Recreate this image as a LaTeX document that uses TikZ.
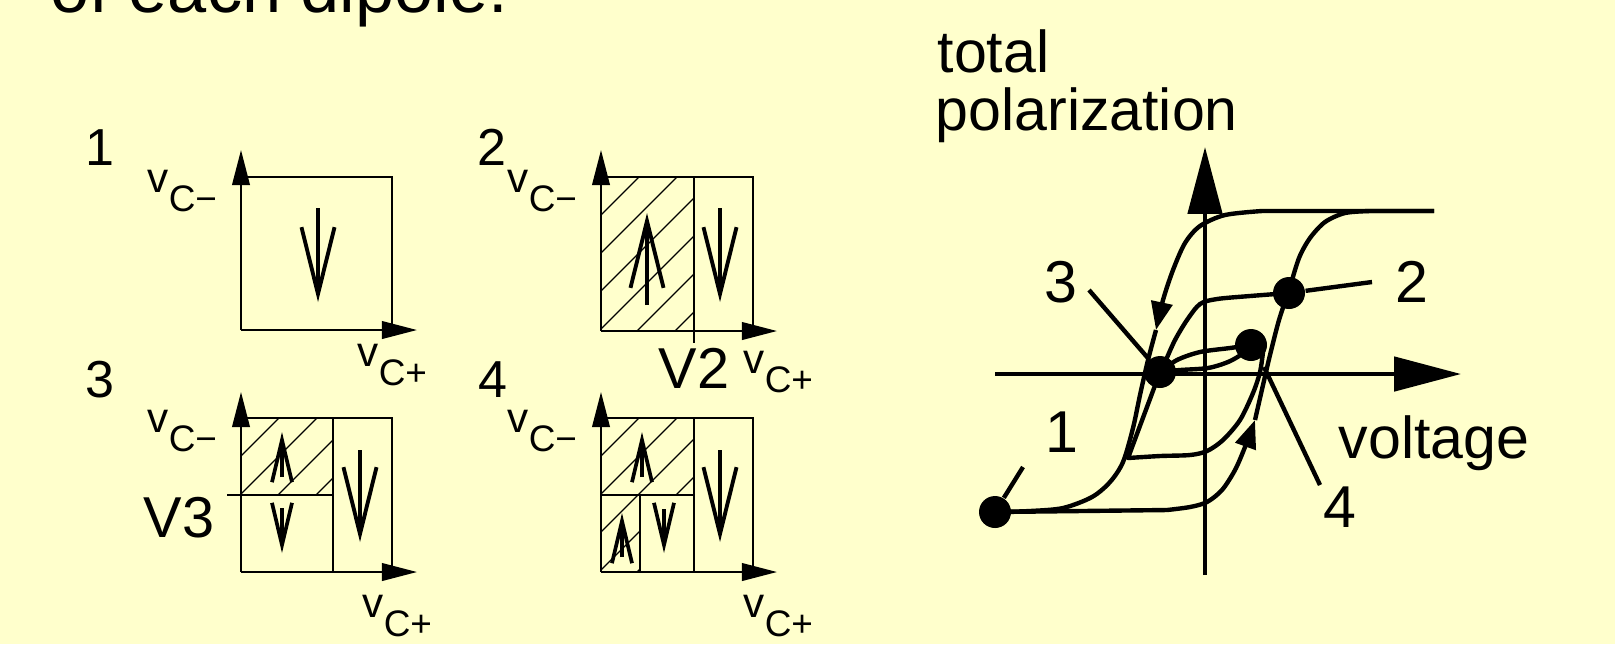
\documentclass[tikz,border=0pt]{standalone}
\usepackage{fontspec}
\setmainfont{Liberation Sans}
\usepackage{tikz}
\usetikzlibrary{arrows.meta}
\definecolor{slidebg}{RGB}{255,255,204}
\newcommand{\vsub}[1]{v\raisebox{-5.6pt}{\fontsize{10.5pt}{10.5pt}\selectfont C#1}}
\tikzset{
  cell/.style   = {line width=0.65pt},
  ax/.style     = {-{Triangle[length=10pt,width=5pt]}, line width=0.65pt},
  dip/.style    = {-{Straight Barb[length=19pt,width=9.4pt]}, line width=1.1pt},
  sdip/.style   = {-{Straight Barb[length=12pt,width=5.7pt]}, line width=1.05pt},
  hatch/.style  = {line width=0.35pt},
  gax/.style    = {-{Triangle[length=19pt,width=9.7pt]}, line width=1.2pt},
  hyst/.style   = {line width=1.25pt, line join=round},
  midarr/.style = {-{Triangle[length=8pt,width=6pt]}},
  pdot/.style   = {circle, fill=black, inner sep=0pt, minimum size=9.1pt},
  vlab/.style   = {anchor=base west, inner sep=0pt, font=\fontsize{12pt}{12pt}\selectfont},
  num/.style    = {anchor=base, inner sep=0pt, font=\fontsize{14.8pt}{14.8pt}\selectfont},
  vbig/.style   = {anchor=base west, inner sep=0pt, font=\fontsize{16.4pt}{16.4pt}\selectfont},
  glab/.style   = {anchor=base, inner sep=0pt, font=\fontsize{16.8pt}{16.8pt}\selectfont},
}

\begin{document}
\begin{tikzpicture}[x=0.01cm, y=-0.01cm]
  \path[fill=slidebg, use as bounding box] (0,0) rectangle (1615,644);
  \node[anchor=base west, inner sep=0pt, font=\fontsize{20pt}{20pt}\selectfont] (title) at (50,12) {of each dipole.};

  % state 1
  \node[num] (n1) at (100,165) {1};
  \draw[cell] (241,177) -| (392,330);
  \draw[ax] (241,330) -- (241,150);
  \draw[ax] (241,330) -- (417,330);
  \draw[dip] (318,208) -- (318,302);
  \node[vlab] (vm1) at (147,192) {\vsub{−}};
  \node[vlab] (vp1) at (357,366) {\vsub{+}};

  % state 2
  \node[num] (n2) at (492,165) {2};
  \begin{scope}
    \clip (601,177) rectangle (694,331);
    \foreach \k in {-5,...,3} \draw[hatch] ({399+38*\k},531) -- ++(400,-400);
  \end{scope}
  \draw[cell] (601,177) -| (753,331);
  \draw[cell] (694,177) -- (694,343);
  \draw[ax] (601,331) -- (601,150);
  \draw[ax] (601,331) -- (777,331);
  \draw[dip] (647,305) -- (647,213);
  \draw[dip] (720,208) -- (720,302);
  \node[vlab] (vm2) at (507,192) {\vsub{−}};
  \node[vlab] (vp2) at (743,373) {\vsub{+}};
  \node[vbig] (v2) at (658,388) {V2};

  % state 3
  \node[num] (n3) at (100,397) {3};
  \begin{scope}
    \clip (241,418) rectangle (333,495);
    \foreach \k in {-5,...,1} \draw[hatch] ({39+38*\k},772) -- ++(400,-400);
  \end{scope}
  \draw[cell] (241,418) -| (392,572);
  \draw[cell] (333,418) -- (333,572);
  \draw[cell] (227,495) -- (333,495);
  \draw[ax] (241,572) -- (241,392);
  \draw[ax] (241,572) -- (417,572);
  \draw[sdip] (282,477) -- (282,432);
  \draw[sdip] (282,508) -- (282,553);
  \draw[dip] (360,450) -- (360,542);
  \node[vlab] (vm3) at (147,432) {\vsub{−}};
  \node[vlab] (vp3) at (362,617) {\vsub{+}};
  \node[vbig] (v3) at (143,537) {V3};

  % state 4
  \node[num] (n4) at (493,397) {4};
  \begin{scope}
    \clip (601,418) rectangle (694,495) (601,495) rectangle (640,572);
    \foreach \k in {-5,...,1} \draw[hatch] ({399+38*\k},772) -- ++(400,-400);
  \end{scope}
  \draw[cell] (601,418) -| (753,572);
  \draw[cell] (694,418) -- (694,572);
  \draw[cell] (601,495) -- (694,495);
  \draw[cell] (640,495) -- (640,572);
  \draw[ax] (601,572) -- (601,392);
  \draw[ax] (601,572) -- (777,572);
  \draw[sdip] (642,477) -- (642,432);
  \draw[sdip] (622,557) -- (622,513);
  \draw[sdip] (664,509) -- (664,553);
  \draw[dip] (720,450) -- (720,542);
  \node[vlab] (vm4) at (507,432) {\vsub{−}};
  \node[vlab] (vp4) at (743,617) {\vsub{+}};

  % hysteresis
  \draw[gax] (1205,575) -- (1205,147);
  \draw[gax] (995,374) -- (1461,374);
  \node[glab, anchor=base west] (ylab) at (937,72) {total};
  \node[glab, anchor=base west] (ylab2) at (935,130) {polarization};
  \node[glab, anchor=base west] (xlab) at (1338,458) {voltage};

  \draw[hyst, midarr] (1434,211) -- (1262,211) -- plot[smooth] coordinates {(1262,211) (1225,215) (1200,226) (1185,243) (1173,270) (1163,300) (1156,330)};
  \draw[hyst] plot[smooth] coordinates {(1156,330) (1148,360) (1140,395) (1133,428) (1123,462) (1110,482) (1092,497) (1063,508) (1030,511) (995,512)};
  \draw[hyst, midarr] (995,512) -- (1167,510) -- plot[smooth] coordinates {(1167,510) (1190,507) (1207,502) (1222,490) (1235,470) (1245,447) (1255,420)};
  \draw[hyst] plot[smooth] coordinates {(1255,420) (1263,385) (1270,355) (1279,320) (1289,290) (1299,258) (1310,238) (1325,222) (1345,213) (1370,211)} -- (1434,211);
  \draw[hyst] plot[smooth] coordinates {(1289,293) (1250,296) (1217,299) (1200,304) (1187,320) (1175,340) (1165,362) (1160,372)};
  \draw[hyst] plot[smooth] coordinates {(1160,372) (1177,360) (1200,352) (1230,348) (1251,345)};
  \draw[hyst] plot[smooth] coordinates {(1160,372) (1180,370) (1208,368) (1228,362) (1242,354) (1251,345)};
  \draw[hyst] (1160,372) -- (1128,458) -- plot[smooth] coordinates {(1128,458) (1160,456) (1190,455) (1207,451) (1223,440) (1240,420) (1253,393) (1260,372) (1263,352)};

  \node[pdot] (d1) at (995,512) {};
  \node[pdot] (d2) at (1289,293) {};
  \node[pdot] (d3) at (1160,372) {};
  \node[pdot] (dm) at (1251,345) {};

  \node[glab] (g1) at (1062,452) {1};
  \node[glab] (g2) at (1412,302) {2};
  \node[glab] (g3) at (1061,302) {3};
  \node[glab] (g4) at (1340,527) {4};
  \coordinate (e1) at (1023,467);
  \coordinate (e2) at (1372,282);
  \coordinate (e3) at (1089,290);
  \coordinate (e4a) at (1264,367);
  \coordinate (e4) at (1320,485);
  \draw[hyst] (e1) -- (d1);
  \draw[hyst] (d2) -- (e2);
  \draw[hyst] (e3) -- (d3);
  \draw[hyst] (e4a) -- (e4);
\end{tikzpicture}
\end{document}
